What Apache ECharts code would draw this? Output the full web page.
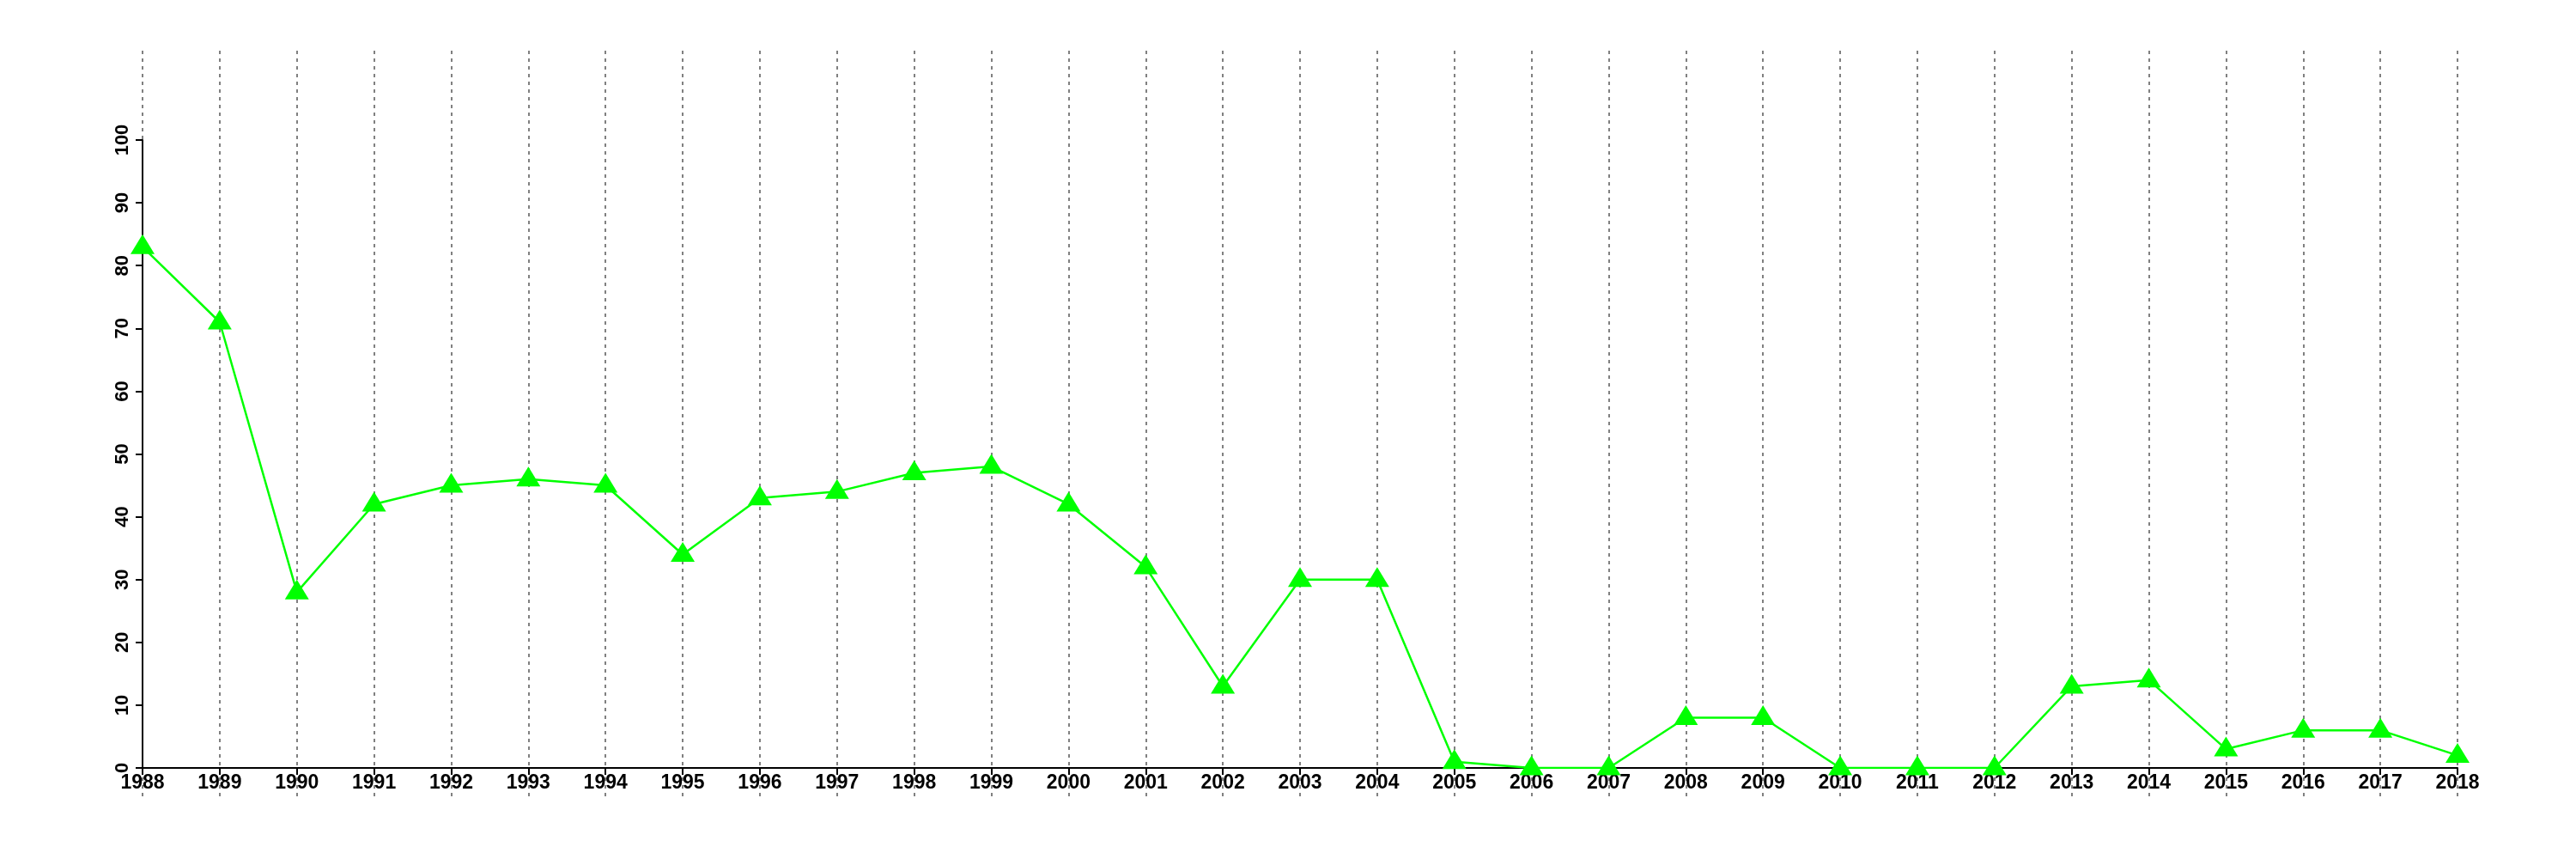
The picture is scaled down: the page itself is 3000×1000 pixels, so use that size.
<!DOCTYPE html>
<html>
<head>
<meta charset="utf-8">
<script src="https://cdn.jsdelivr.net/npm/echarts@6/dist/echarts.min.js"></script>
<style>
  html, body { margin: 0; padding: 0; background: #ffffff; }
  #chart { width: 3000px; height: 1000px; }
</style>
</head>
<body>
<div id="chart"></div>
<script>
const years = ['1988','1989','1990','1991','1992','1993','1994','1995','1996','1997','1998','1999','2000','2001','2002','2003','2004','2005','2006','2007','2008','2009','2010','2011','2012','2013','2014','2015','2016','2017','2018'];
const values = [83, 71, 28, 42, 45, 46, 45, 34, 43, 44, 47, 48, 42, 32, 13, 30, 30, 1, 0, 0, 8, 8, 0, 0, 0, 13, 14, 3, 6, 6, 2];
const yMin = 0;
const yMax = 100;
const yStep = 10;

const FONT = '"Liberation Sans", Arial, Helvetica, sans-serif';
const chart = echarts.init(document.getElementById('chart'), null, { renderer: 'canvas' });

chart.setOption({
  animation: false,
  backgroundColor: '#ffffff',
  grid: [
    { left: 166, right: 138, top: 163, bottom: 106 },
    { left: 166, right: 138, top: 59, bottom: 73 }
  ],
  xAxis: [
    {
      gridIndex: 0,
      type: 'category',
      data: years,
      boundaryGap: false,
      axisLine: { show: true, lineStyle: { color: '#000000', width: 2 } },
      axisTick: { show: true, length: 8, lineStyle: { color: '#000000', width: 2 } },
      axisLabel: { show: true, interval: 0, margin: 6, color: '#000000', fontFamily: FONT, fontWeight: 'bold', fontSize: 23 },
      splitLine: { show: false }
    },
    {
      gridIndex: 1,
      type: 'category',
      data: years,
      boundaryGap: false,
      axisLine: { show: false },
      axisTick: { show: false },
      axisLabel: { show: false },
      splitLine: { show: true, interval: 0, lineStyle: { color: '#808080', width: 2, type: [4, 5] } }
    }
  ],
  yAxis: [
    {
      gridIndex: 0,
      type: 'value',
      min: yMin,
      max: yMax,
      interval: yStep,
      axisLine: { show: true, lineStyle: { color: '#000000', width: 2 } },
      axisTick: { show: true, length: 8, lineStyle: { color: '#000000', width: 2 } },
      axisLabel: { show: true, rotate: 90, margin: 12, color: '#000000', fontFamily: FONT, fontWeight: 'bold', fontSize: 22 },
      splitLine: { show: false }
    },
    {
      gridIndex: 1,
      type: 'value',
      min: yMin,
      max: yMax,
      show: false,
      splitLine: { show: false }
    }
  ],
  series: [
    {
      type: 'line',
      xAxisIndex: 0,
      yAxisIndex: 0,
      data: values,
      z: 5,
      lineStyle: { color: '#00ff00', width: 2.5 },
      itemStyle: { color: '#00ff00' },
      symbol: 'triangle',
      symbolSize: [28, 23],
      symbolOffset: [0, -3],
      showAllSymbol: true
    }
  ]
});
</script>
</body>
</html>
